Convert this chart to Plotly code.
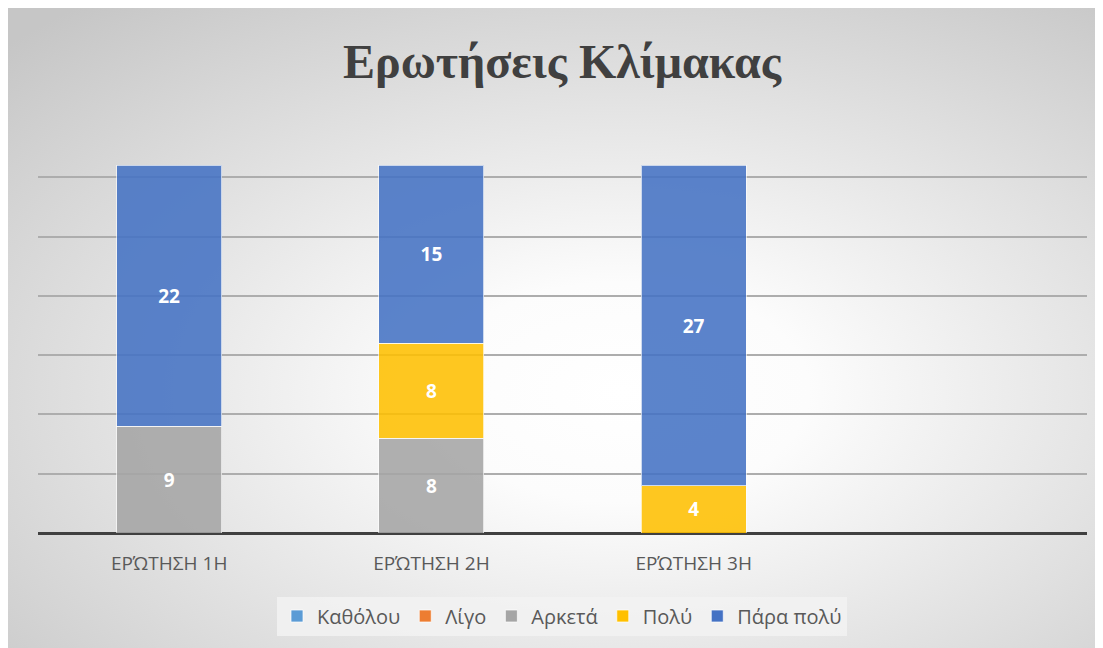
import base64
import plotly.graph_objects as go

categories = ["ΕΡΏΤΗΣΗ 1Η", "ΕΡΏΤΗΣΗ 2Η", "ΕΡΏΤΗΣΗ 3Η", ""]
series_names = ["Καθόλου", "Λίγο", "Αρκετά", "Πολύ", "Πάρα πολύ"]
katholou = [None, None, None, None]
ligo = [None, None, None, None]
arketa = [9, 8, None, None]
poly = [None, 8, 4, None]
para_poly = [22, 15, 27, None]
colors = ["#5B9BD5", "#ED7D31", "#A5A5A5", "#FFC000", "#4472C4"]
title_text = "Ερωτήσεις Κλίμακας"

# page has an 8px body margin; figure coords = page coords - 8
W, H = 1095, 640
L, R, T, B = 30, 1079, 110, 525

xpos = list(range(len(categories)))
fig = go.Figure()
for name, vals, col in zip(series_names, [katholou, ligo, arketa, poly, para_poly], colors):
    fig.add_trace(go.Bar(
        x=xpos, y=vals, name=name,
        marker=dict(color=col, opacity=0.87, line=dict(color="rgba(255,255,255,0.7)", width=1)),
        texttemplate="<b>%{y}</b>", textposition="inside", insidetextanchor="middle",
        textfont=dict(family="Open Sans", size=19, color="white"),
        hoverinfo="skip",
    ))

svg = f'''<svg xmlns="http://www.w3.org/2000/svg" width="{W}" height="{H}" viewBox="0 0 {W} {H}" preserveAspectRatio="none">
<defs><radialGradient id="g" cx="0.56" cy="0.6" r="0.78" fx="0.56" fy="0.6">
<stop offset="0" stop-color="#FFFFFF"/><stop offset="0.22" stop-color="#FCFCFC"/><stop offset="1" stop-color="#C6C6C6"/>
</radialGradient></defs><rect width="{W}" height="{H}" fill="url(#g)"/></svg>'''
src = "data:image/svg+xml;base64," + base64.b64encode(svg.encode()).decode()

pw, ph = R - L, B - T
fig.add_layout_image(dict(
    source=src, xref="paper", yref="paper",
    x=-L / pw, y=B / ph, sizex=W / pw, sizey=H / ph,
    xanchor="left", yanchor="top", sizing="stretch", layer="below",
))

fig.update_layout(
    width=W, height=H,
    margin=dict(l=L, r=W - R, t=T, b=H - B, pad=0),
    barmode="stack", bargap=0.6,
    paper_bgcolor="white", plot_bgcolor="rgba(0,0,0,0)",
    title=dict(text=f"<b>{title_text}</b>", x=554 / W, xref="container", y=1 - 53 / H, yref="container",
               xanchor="center", yanchor="middle",
               font=dict(family="Liberation Serif", size=48, color="#404040")),
    showlegend=True,
    legend=dict(orientation="h", x=(554 - L) / pw, y=(B - 608) / ph, xanchor="center", yanchor="middle",
                bgcolor="rgba(242,242,242,0.85)", font=dict(family="Open Sans", size=20, color="#595959"),
                itemclick=False, traceorder="normal", itemwidth=30),
    xaxis=dict(tickvals=xpos, ticktext=categories, range=[-0.5, len(categories) - 0.5],
               showgrid=False, zeroline=False, showline=False, ticks="",
               tickfont=dict(family="Open Sans", size=19, color="#595959"), ticklabelstandoff=17),
    yaxis=dict(range=[0, 35], dtick=5, showgrid=True, gridcolor="#ADADAD", gridwidth=1.5,
               showticklabels=False, zeroline=True, zerolinecolor="#404040", zerolinewidth=3,
               showline=False, ticks=""),
)

fig.write_html("out.html")
